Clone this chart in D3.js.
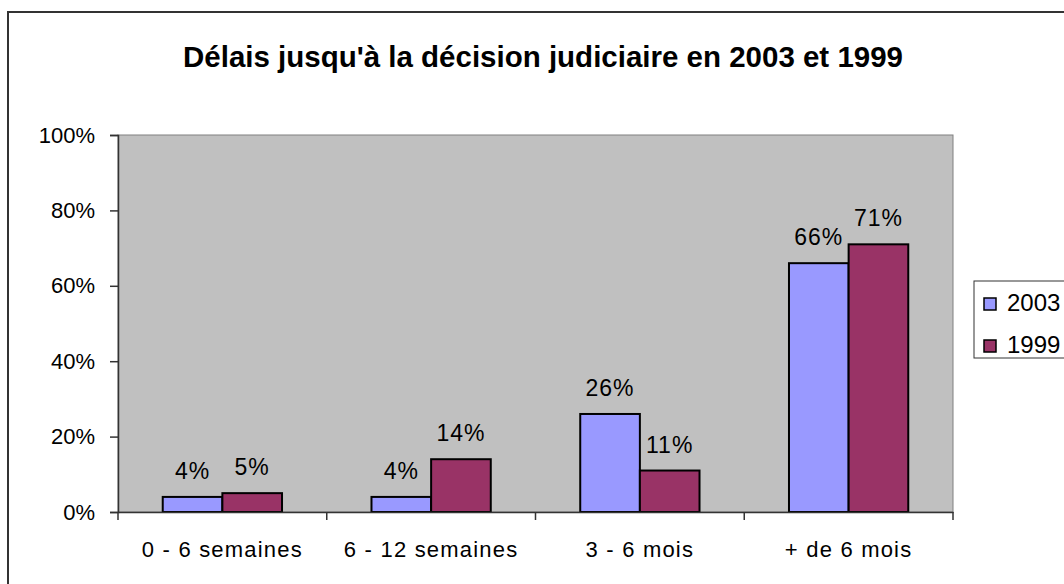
<!DOCTYPE html>
<html><head><meta charset="utf-8">
<script src="https://cdn.jsdelivr.net/npm/d3@7"></script>
<style>
html,body{margin:0;padding:0;background:#fff;}
svg{display:block;font-family:"Liberation Sans",Arial,sans-serif;}
</style></head>
<body>
<script>
const title = "Délais jusqu'à la décision judiciaire en 2003 et 1999";
const categories = ["0 - 6 semaines", "6 - 12 semaines", "3 - 6 mois", "+ de 6 mois"];
const seriesNames = ["2003", "1999"];
const values2003 = [4, 4, 26, 66];
const values1999 = [5, 14, 11, 71];
const yTicks = [0, 20, 40, 60, 80, 100];
const colors = ["#9999FF", "#993366"];

const W = 1064, H = 584;
const plot = {left: 118, right: 953, top: 135, bottom: 512};

const svg = d3.select("body").append("svg").attr("width", W).attr("height", H);
svg.append("rect").attr("width", W).attr("height", H).attr("fill", "#fff");
// outer chart border
svg.append("rect").attr("x", 8).attr("y", 12).attr("width", 1200).attr("height", 700)
  .attr("fill", "none").attr("stroke", "#333").attr("stroke-width", 2);

svg.append("text").attr("x", 543).attr("y", 67).attr("text-anchor", "middle")
  .attr("font-family", "'Liberation Sans Narrow','Liberation Sans',Arial,sans-serif")
  .attr("font-weight", "bold").attr("font-size", 29)
  .attr("textLength", 720).attr("lengthAdjust", "spacingAndGlyphs")
  .text(title);

const x0 = d3.scaleBand().domain(categories).range([plot.left, plot.right]).paddingInner(0).paddingOuter(0);
const x1 = d3.scaleBand().domain(seriesNames).range([0, x0.bandwidth()]).paddingInner(0).paddingOuter(0.75);
const y = d3.scaleLinear().domain([0, 100]).range([plot.bottom, plot.top]);

svg.append("rect").attr("x", plot.left).attr("y", plot.top)
  .attr("width", plot.right - plot.left).attr("height", plot.bottom - plot.top)
  .attr("fill", "#C0C0C0").attr("stroke", "#808080").attr("stroke-width", 1);

const data = categories.map((c, i) => ({cat: c, vals: [
  {s: seriesNames[0], v: values2003[i], c: colors[0]},
  {s: seriesNames[1], v: values1999[i], c: colors[1]}]}));

const g = svg.append("g");
const groups = g.selectAll("g.cat").data(data).join("g")
  .attr("transform", d => `translate(${x0(d.cat)},0)`);
groups.selectAll("rect").data(d => d.vals).join("rect")
  .attr("x", d => x1(d.s)).attr("width", x1.bandwidth())
  .attr("y", d => y(d.v)).attr("height", d => y(0) - y(d.v))
  .attr("fill", d => d.c).attr("stroke", "#000").attr("stroke-width", 2);
groups.selectAll("text").data(d => d.vals).join("text")
  .attr("x", d => x1(d.s) + x1.bandwidth() / 2)
  .attr("y", d => y(d.v) - 18)
  .attr("text-anchor", "middle").attr("font-size", 23).attr("letter-spacing", 1)
  .attr("fill", "#000").text(d => d.v + "%");

// Y axis
const yAxis = svg.append("g").attr("transform", `translate(${plot.left},0)`)
  .call(d3.axisLeft(y).tickValues(yTicks).tickSize(8).tickPadding(15).tickFormat(d => d + "%"));
yAxis.select(".domain").attr("stroke", "#333").attr("stroke-width", 1.5);
yAxis.selectAll(".tick line").attr("stroke", "#333").attr("stroke-width", 1.5);
yAxis.selectAll(".tick text").attr("font-size", 22).attr("font-family", "'Liberation Sans',Arial,sans-serif").attr("fill", "#000");

// X axis
const xAxis = svg.append("g").attr("transform", `translate(0,${plot.bottom})`)
  .call(d3.axisBottom(x0).tickSize(0).tickPadding(29));
xAxis.select(".domain").attr("stroke", "#333").attr("stroke-width", 1.5);
xAxis.selectAll(".tick text").attr("font-size", 22).attr("letter-spacing", 1.2)
  .attr("font-family", "'Liberation Sans',Arial,sans-serif").attr("fill", "#000");
const bounds = categories.map(c => x0(c)).concat([plot.right]);
xAxis.selectAll("line.sep").data(bounds).join("line").attr("class", "sep")
  .attr("x1", d => d).attr("x2", d => d).attr("y1", 0).attr("y2", 8)
  .attr("stroke", "#333").attr("stroke-width", 1.5);

// Legend
const leg = svg.append("g").attr("transform", "translate(974,281)");
leg.append("rect").attr("width", 200).attr("height", 77).attr("fill", "#fff")
  .attr("stroke", "#333").attr("stroke-width", 1);
const items = leg.selectAll("g.item").data(seriesNames).join("g")
  .attr("transform", (d, i) => `translate(10,${17 + i * 42})`);
items.append("rect").attr("width", 12).attr("height", 12)
  .attr("fill", (d, i) => colors[i]).attr("stroke", "#000").attr("stroke-width", 1.5);
items.append("text").attr("x", 23).attr("y", 13).attr("font-size", 24)
  .attr("fill", "#000").text(d => d);
</script>
</body></html>
